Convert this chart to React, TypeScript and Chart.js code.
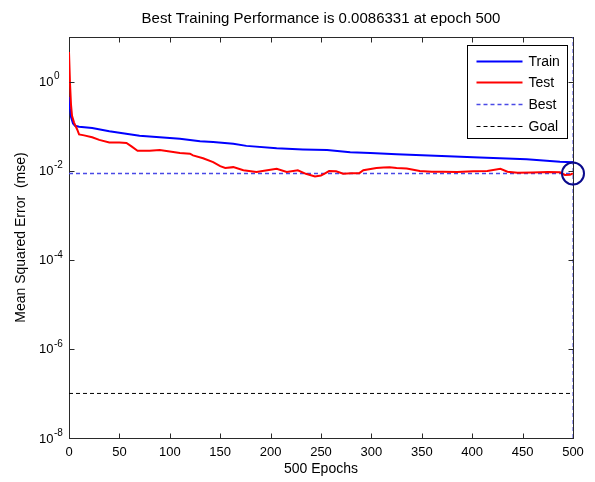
import React, { useEffect, useRef } from 'react';
import { Chart, registerables } from 'chart.js';

Chart.register(...registerables);

// ---- data ----
const titleText = 'Best Training Performance is 0.0086331 at epoch 500';
const xAxisTitle = '500 Epochs';
const yAxisTitle = 'Mean Squared Error  (mse)';

const xTickValues = [0, 50, 100, 150, 200, 250, 300, 350, 400, 450, 500];
const yTickExponents = [0, -2, -4, -6, -8];

const trainEpochs = [0, 1, 2, 4, 6, 10, 23, 40, 55, 70, 90, 110, 130, 143, 163, 176, 206, 232, 256, 279, 299, 325, 376, 401, 454, 487, 500];
const trainMse = [0.45, 0.25, 0.16, 0.115, 0.102, 0.097, 0.091, 0.077, 0.068, 0.061, 0.056, 0.052, 0.046, 0.044, 0.04, 0.036, 0.032, 0.03, 0.029, 0.026, 0.025, 0.0235, 0.021, 0.02, 0.018, 0.0158, 0.0155];

const testEpochs = [0, 1, 2, 3, 5, 8, 10, 15, 23, 30, 40, 50, 57, 62, 68, 80, 90, 100, 110, 120, 123, 133, 143, 150, 155, 163, 173, 186, 192, 206, 216, 227, 235, 244, 250, 254, 258, 265, 272, 280, 288, 292, 305, 312, 318, 325, 335, 348, 360, 371, 385, 401, 415, 428, 435, 445, 460, 475, 487, 492, 497, 500];
const testMse = [4.6, 0.9, 0.3, 0.17, 0.12, 0.085, 0.065, 0.062, 0.056, 0.049, 0.043, 0.043, 0.042, 0.035, 0.028, 0.028, 0.029, 0.027, 0.025, 0.024, 0.022, 0.019, 0.0155, 0.0126, 0.0115, 0.012, 0.0102, 0.0093, 0.0098, 0.011, 0.0093, 0.0102, 0.0085, 0.0074, 0.0078, 0.0087, 0.0098, 0.0097, 0.0085, 0.0087, 0.0088, 0.0102, 0.0115, 0.0118, 0.012, 0.0115, 0.0112, 0.0098, 0.0095, 0.0094, 0.0093, 0.0097, 0.0098, 0.011, 0.0095, 0.009, 0.0091, 0.0093, 0.0092, 0.008, 0.0081, 0.0086331];

const bestEpoch = 500;
const bestMse = 0.0086331;
const goalMse = 1e-7;
const xMin = 0;
const xMax = 500;
const yMin = 1e-8;
const yMax = 10;

const legendLabels = ['Train', 'Test', 'Best', 'Goal'];

// ---- styles ----
const FONT = '"Liberation Sans", Arial, Helvetica, sans-serif';
const TRAIN_COLOR = '#0000ff';
const TEST_COLOR = '#ff0000';
const BEST_COLOR = '#4a4ae6';
const GOAL_COLOR = '#000000';
const CIRCLE_COLOR = '#0a0a8c';
const AXIS_COLOR = '#2a2a2a';

const toPoints = (xs: number[], ys: number[]) => xs.map((x, i) => ({ x, y: ys[i] }));

const matlabAxes = {
  id: 'matlabAxes',
  beforeDatasetsDraw(chart: any) {
    const { ctx, chartArea: a } = chart;
    ctx.save();
    ctx.strokeStyle = AXIS_COLOR;
    ctx.lineWidth = 1;
    ctx.strokeRect(Math.round(a.left) + 0.5, Math.round(a.top) + 0.5, Math.round(a.right - a.left), Math.round(a.bottom - a.top));
    ctx.restore();
  },
  afterDraw(chart: any) {
    const { ctx, chartArea: a, scales } = chart;
    const x = scales.x;
    const y = scales.y;
    const L = Math.round(a.left) + 0.5;
    const R = Math.round(a.right) + 0.5;
    const T = Math.round(a.top) + 0.5;
    const B = Math.round(a.bottom) + 0.5;
    const tl = 5;
    ctx.save();
    ctx.strokeStyle = AXIS_COLOR;
    ctx.lineWidth = 1;
    ctx.beginPath();
    xTickValues.forEach((v) => {
      const px = Math.round(x.getPixelForValue(v)) + 0.5;
      ctx.moveTo(px, B);
      ctx.lineTo(px, B - tl);
      ctx.moveTo(px, T);
      ctx.lineTo(px, T + tl);
    });
    yTickExponents.forEach((e) => {
      const py = Math.round(y.getPixelForValue(Math.pow(10, e))) + 0.5;
      ctx.moveTo(L, py);
      ctx.lineTo(L + tl, py);
      ctx.moveTo(R, py);
      ctx.lineTo(R - tl, py);
    });
    ctx.stroke();

    // y tick labels: 10 with superscript exponent
    ctx.fillStyle = '#000';
    yTickExponents.forEach((e) => {
      const py = y.getPixelForValue(Math.pow(10, e));
      const baseX = L - 16;
      ctx.font = `13px ${FONT}`;
      ctx.textAlign = 'right';
      ctx.textBaseline = 'middle';
      ctx.fillText('10', baseX, py + 1);
      ctx.font = `10px ${FONT}`;
      ctx.textAlign = 'left';
      ctx.fillText(String(e), baseX + 0.5, py - 5);
    });

    // legend
    const lw = 100;
    const lh = 93;
    const lx = Math.round(a.right - 6 - lw) + 0.5;
    const ly = Math.round(a.top + 8) + 0.5;
    ctx.fillStyle = '#fff';
    ctx.fillRect(lx, ly, lw, lh);
    ctx.strokeStyle = '#000';
    ctx.lineWidth = 1;
    ctx.strokeRect(lx, ly, lw, lh);
    const styles = [
      { color: TRAIN_COLOR, width: 2, dash: [] as number[] },
      { color: TEST_COLOR, width: 2, dash: [] as number[] },
      { color: BEST_COLOR, width: 1.5, dash: [4, 3] },
      { color: GOAL_COLOR, width: 1, dash: [4, 3] },
    ];
    legendLabels.forEach((label, i) => {
      const ry = Math.round(ly + 15 + i * 21.7) + 0.5;
      const st = styles[i];
      ctx.strokeStyle = st.color;
      ctx.lineWidth = st.width;
      ctx.setLineDash(st.dash);
      ctx.beginPath();
      ctx.moveTo(lx + 9, ry);
      ctx.lineTo(lx + 55, ry);
      ctx.stroke();
      ctx.setLineDash([]);
      ctx.fillStyle = '#000';
      ctx.font = `14px ${FONT}`;
      ctx.textAlign = 'left';
      ctx.textBaseline = 'middle';
      ctx.fillText(label, lx + 61, ry + 1);
    });
    ctx.restore();
  },
};

export default function App() {
  const canvasRef = useRef<HTMLCanvasElement | null>(null);

  useEffect(() => {
    if (!canvasRef.current) return;
    Chart.defaults.font.family = FONT;
    const chart = new Chart(canvasRef.current, {
      type: 'line',
      data: {
        datasets: [
          {
            label: 'Circle',
            type: 'scatter',
            data: [{ x: bestEpoch, y: bestMse }],
            pointRadius: 11,
            pointBorderWidth: 2,
            pointBorderColor: CIRCLE_COLOR,
            pointBackgroundColor: 'rgba(0,0,0,0)',
            showLine: false,
            clip: false,
            order: -1,
          } as any,
          {
            label: legendLabels[1],
            data: toPoints(testEpochs, testMse),
            borderColor: TEST_COLOR,
            borderWidth: 2,
            pointRadius: 0,
            tension: 0,
          },
          {
            label: legendLabels[0],
            data: toPoints(trainEpochs, trainMse),
            borderColor: TRAIN_COLOR,
            borderWidth: 2,
            pointRadius: 0,
            tension: 0,
          },
          {
            label: legendLabels[2],
            data: [{ x: xMin, y: bestMse }, { x: xMax, y: bestMse }],
            borderColor: BEST_COLOR,
            backgroundColor: BEST_COLOR,
            borderWidth: 1.5,
            borderDash: [4, 3],
            pointRadius: 0,
            fill: false,
          },
          {
            label: 'BestEpoch',
            data: [{ x: bestEpoch, y: yMin }, { x: bestEpoch, y: yMax }],
            borderColor: BEST_COLOR,
            borderWidth: 1,
            borderDash: [4, 3],
            pointRadius: 0,
          },
          {
            label: legendLabels[3],
            data: [{ x: xMin, y: goalMse }, { x: xMax, y: goalMse }],
            borderColor: GOAL_COLOR,
            borderWidth: 1,
            borderDash: [4, 3],
            pointRadius: 0,
          },
        ],
      },
      options: {
        animation: false,
        responsive: true,
        maintainAspectRatio: false,
        layout: { padding: { top: 0, right: 22, bottom: 0, left: 0 } },
        plugins: {
          legend: { display: false },
          tooltip: { enabled: false },
          title: {
            display: true,
            text: titleText,
            color: '#000',
            font: { size: 15, weight: 'normal', family: FONT },
            padding: { top: 10, bottom: 9 },
            fullSize: false,
          },
        },
        scales: {
          x: {
            type: 'linear',
            min: xMin,
            max: xMax,
            grid: { display: false, drawTicks: false },
            border: { display: false },
            ticks: {
              stepSize: 50,
              color: '#000',
              font: { size: 13, family: FONT },
              padding: 7,
              maxRotation: 0,
              autoSkip: false,
            },
            title: {
              display: true,
              text: xAxisTitle,
              color: '#000',
              font: { size: 14, family: FONT },
              padding: { top: 0, bottom: 4 },
            },
            afterFit: (s: any) => {
              s.height = 44;
            },
          },
          y: {
            type: 'logarithmic',
            min: yMin,
            max: yMax,
            grid: { display: false, drawTicks: false },
            border: { display: false },
            ticks: { display: false },
            title: {
              display: true,
              text: yAxisTitle,
              color: '#000',
              font: { size: 14, family: FONT },
              padding: { top: 13, bottom: 0 },
            },
            afterFit: (s: any) => {
              s.width = 69;
            },
          },
        },
      } as any,
      plugins: [matlabAxes],
    });
    return () => chart.destroy();
  }, []);

  return (
    <div style={{ position: 'absolute', left: 0, top: 0, width: 595, height: 482, background: '#fff' }}>
      <canvas ref={canvasRef} />
    </div>
  );
}
